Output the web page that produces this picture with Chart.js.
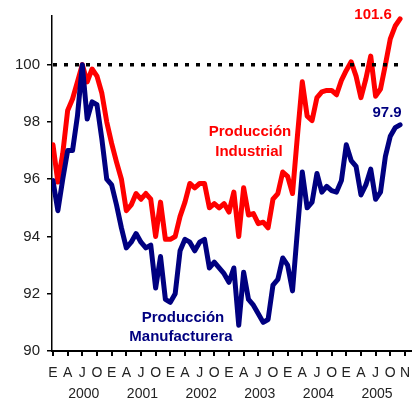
<!DOCTYPE html>
<html>
<head>
<meta charset="utf-8">
<script src="https://cdn.jsdelivr.net/npm/chart.js@4.4.0/dist/chart.umd.min.js"></script>
<style>
  html, body { margin: 0; padding: 0; background: #fff; }
  #wrap { width: 419px; height: 400px; }
</style>
</head>
<body>
<div id="wrap"><canvas id="chart" width="419" height="400"></canvas></div>
<script>
// Índices mensuales, enero 2000 en adelante
const industrial = [
    97.2, 95.9, 96.9, 98.4, 98.8, 99.4, 100.0, 99.4, 99.85, 99.6, 99.0, 98.0,
    97.25, 96.6, 96.0, 94.9, 95.1, 95.5, 95.3, 95.5, 95.3, 94.0, 95.2, 93.9,
    93.9, 94.0, 94.7, 95.2, 95.85, 95.7, 95.85, 95.85, 95.0, 95.15, 95.0, 95.15,
    94.85, 95.55, 94.0, 95.7, 94.75, 94.8, 94.45, 94.5, 94.3, 95.3, 95.5, 96.25,
    96.1, 95.5, 97.5, 99.4, 98.2, 98.05, 98.85, 99.05, 99.1, 99.1, 98.95, 99.45,
    99.8, 100.1, 99.6, 98.85, 99.5, 100.3, 98.9, 99.15, 100.0, 100.9, 101.35, 101.6
];
const manufacturing = [
    95.95, 94.9, 96.0, 97.0, 97.0, 98.2, 100.0, 98.1, 98.7, 98.6, 97.4, 96.0,
    95.8, 95.1, 94.3, 93.6, 93.8, 94.1, 93.8, 93.6, 93.7, 92.2, 93.3, 91.8,
    91.7, 92.0, 93.5, 93.9, 93.8, 93.5, 93.8, 93.9, 92.9, 93.1, 92.9, 92.7,
    92.4, 92.9, 90.9, 92.75, 91.8, 91.6, 91.3, 91.0, 91.1, 92.3, 92.5, 93.25,
    93.0, 92.1, 94.2, 96.25, 95.0, 95.2, 96.2, 95.55, 95.75, 95.6, 95.55, 95.95,
    97.2, 96.65, 96.45, 95.45, 95.8, 96.35, 95.3, 95.55, 96.8, 97.5, 97.8, 97.9
];
const quarterLabels = [
    'E', 'A', 'J', 'O', 'E', 'A', 'J', 'O', 'E', 'A', 'J', 'O',
    'E', 'A', 'J', 'O', 'E', 'A', 'J', 'O', 'E', 'A', 'J', 'O', 'N'
];
const yearLabels = ['2000', '2001', '2002', '2003', '2004', '2005'];
const yTicks = [90, 92, 94, 96, 98, 100];
const baseLevel = 100;

const RED = '#ff0000';
const NAVY = '#000080';
const FONT = '"Liberation Sans", Arial, sans-serif';

Chart.defaults.font.family = FONT;

// Textos: años, valores finales y nombres de las series
const textPlugin = {
    id: 'chartText',
    afterDraw(chart) {
        const { ctx, scales: { x, y } } = chart;
        const last = industrial.length - 1;
        ctx.save();
        ctx.textAlign = 'center';
        ctx.textBaseline = 'middle';

        ctx.font = '14px ' + FONT;
        ctx.fillStyle = '#222';
        yearLabels.forEach((yr, k) => {
            ctx.fillText(yr, x.getPixelForValue(6.3 + 12 * k), 394);
        });

        ctx.font = 'bold 15px ' + FONT;
        ctx.fillStyle = RED;
        ctx.fillText(industrial[last].toFixed(1),
            x.getPixelForValue(last) - 27, y.getPixelForValue(industrial[last]) - 4);
        ctx.fillText('Producción', 250, 132);
        ctx.fillText('Industrial', 249, 152);

        ctx.fillStyle = NAVY;
        ctx.fillText(manufacturing[last].toFixed(1),
            x.getPixelForValue(last) - 13, y.getPixelForValue(manufacturing[last]) - 12);
        ctx.fillText('Producción', 183, 318);
        ctx.fillText('Manufacturera', 181, 337);
        ctx.restore();
    }
};

new Chart(document.getElementById('chart'), {
    type: 'line',
    data: {
        datasets: [{
            label: 'Base 100',
            data: industrial.map((_, i) => ({ x: i, y: baseLevel })),
            borderColor: '#000',
            borderWidth: 3.5,
            borderDash: [4, 7],
            borderCapStyle: 'butt',
            pointRadius: 0
        }, {
            label: 'Producción Manufacturera',
            data: manufacturing.map((v, i) => ({ x: i, y: v })),
            borderColor: NAVY,
            borderWidth: 5,
            pointRadius: 0
        }, {
            label: 'Producción Industrial',
            data: industrial.map((v, i) => ({ x: i, y: v })),
            borderColor: RED,
            borderWidth: 5,
            pointRadius: 0
        }]
    },
    options: {
        responsive: false,
        animation: false,
        layout: { padding: { top: 15, right: 0, left: 0, bottom: 0 } },
        elements: {
            line: { tension: 0, fill: false, borderJoinStyle: 'round', borderCapStyle: 'round' }
        },
        plugins: {
            legend: { display: false },
            tooltip: { enabled: false }
        },
        scales: {
            x: {
                type: 'linear',
                min: -0.2,
                max: 73.2,
                afterBuildTicks: s => { s.ticks = quarterLabels.map((_, k) => ({ value: 3 * k })); },
                afterFit: s => { s.height = 49; },
                ticks: {
                    autoSkip: false,
                    maxRotation: 0,
                    padding: 9,
                    color: '#222',
                    font: { size: 14 },
                    callback: (v, i) => quarterLabels[i]
                },
                grid: { drawOnChartArea: false, tickLength: 5, color: '#000', lineWidth: 2 },
                border: { color: '#000', width: 2 }
            },
            y: {
                min: 90,
                max: 101.7,
                afterBuildTicks: s => { s.ticks = yTicks.map(v => ({ value: v })); },
                afterFit: s => { s.width = 52; },
                ticks: { padding: 7, color: '#222', font: { size: 15 } },
                grid: { drawOnChartArea: false, tickLength: 5, color: '#000', lineWidth: 1.5 },
                border: { color: '#000', width: 1.5 }
            }
        }
    },
    plugins: [textPlugin]
});
</script>
</body>
</html>
